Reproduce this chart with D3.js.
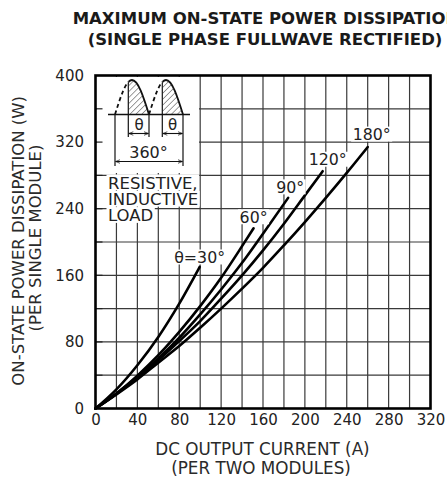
<!DOCTYPE html>
<html><head><meta charset="utf-8">
<script src="https://cdn.jsdelivr.net/npm/d3@7"></script>
<style>body{margin:0;background:#fff} svg{display:block}</style>
</head><body>
<svg id="chart" width="447" height="491"></svg>
<script>
// ---- data ----
const xTickValues = [0, 40, 80, 120, 160, 200, 240, 280, 320];
const yTickValues = [0, 80, 160, 240, 320, 400];
const curveLabels = ["θ=30°", "60°", "90°", "120°", "180°"];
const current30  = [0, 20, 40, 60, 80, 99.5];
const power30    = [0, 23, 52, 86, 126, 170];
const current60  = [0, 20, 40, 60, 80, 100, 120, 140, 151];
const power60    = [0, 18, 39.5, 64, 92, 123, 157, 195, 216.5];
const current90  = [0, 20, 40, 60, 80, 100, 120, 140, 160, 184];
const power90    = [0, 18, 38, 60, 85, 113, 143, 175, 210, 253];
const current120 = [0, 20, 40, 60, 80, 100, 120, 140, 160, 180, 200, 217];
const power120   = [0, 17.5, 37, 58, 81, 105, 132, 160, 190, 222, 256, 285];
const current180 = [0, 20, 40, 60, 80, 100, 120, 140, 160, 180, 200, 220, 240, 260];
const power180   = [0, 17, 35, 55, 75, 97, 120, 144, 169, 196, 224, 253, 283, 314];

const seriesX = [current30, current60, current90, current120, current180];
const seriesY = [power30, power60, power90, power120, power180];

// ---- drawing ----
const FONT = "'DejaVu Sans', sans-serif";
const svg = d3.select("#chart");
svg.append("rect").attr("width", 447).attr("height", 491).attr("fill", "#fff");

const x = d3.scaleLinear().domain([0, 320]).range([95.5, 430.5]);
const y = d3.scaleLinear().domain([0, 400]).range([408.5, 75.5]);

// grid
const grid = svg.append("g").attr("stroke", "#3a3a3a").attr("stroke-width", 1.2);
grid.selectAll("line.v").data(d3.range(20, 320, 20)).join("line")
  .attr("x1", d => x(d)).attr("x2", d => x(d)).attr("y1", y(0)).attr("y2", y(400));
grid.selectAll("line.h").data(d3.range(40, 400, 40)).join("line")
  .attr("y1", d => y(d)).attr("y2", d => y(d)).attr("x1", x(0)).attr("x2", x(320));

// inset white box
svg.append("rect").attr("x", 97).attr("y", 77).attr("width", 102).attr("height", 96).attr("fill", "#fff");

// load label
const loadLines = ["RESISTIVE,", "INDUCTIVE", "LOAD"];
const loadG = svg.append("g");
loadLines.forEach((t, i) => {
  const by = 188.5 + i * 16.3;
  const txt = loadG.append("text").attr("x", 108).attr("y", by).text(t)
    .attr("font-family", FONT).attr("font-size", 16.5).attr("fill", "#222");
  const bb = txt.node().getBBox();
  loadG.insert("rect", "text").attr("x", bb.x - 1.5).attr("y", by - 14)
    .attr("width", bb.width + 3).attr("height", 15.8).attr("fill", "#fff");
});

// inset waveform
const inset = svg.append("g").attr("stroke", "#111").attr("fill", "none");
const baseY = 114.5, humpW = 34, humpH = 34.5;
const humps = [{x0: 115, cut: 128.3}, {x0: 149, cut: 162.3}];
function humpPath(x0) {
  const sx = humpW / Math.PI, b = baseY, h = humpH;
  return `M${x0},${b} C${x0 + 0.5128 * sx},${b - 0.5128 * h} ${x0 + 1.0023 * sx},${b - h} ${x0 + humpW / 2},${b - h}`
    + ` C${x0 + humpW - 1.0023 * sx},${b - h} ${x0 + humpW - 0.5128 * sx},${b - 0.5128 * h} ${x0 + humpW},${b}`;
}
const defs = svg.append("defs");
const pat = defs.append("pattern").attr("id", "hatch").attr("patternUnits", "userSpaceOnUse")
  .attr("width", 4.2).attr("height", 4.2).attr("patternTransform", "rotate(45)");
pat.append("line").attr("x1", 0).attr("y1", 0).attr("x2", 0).attr("y2", 4.2)
  .attr("stroke", "#222").attr("stroke-width", 0.9);
humps.forEach((hp, i) => {
  defs.append("clipPath").attr("id", "hc" + i).append("path").attr("d", humpPath(hp.x0) + "Z");
  defs.append("clipPath").attr("id", "left" + i).append("rect")
    .attr("x", hp.x0 - 2).attr("y", 70).attr("width", hp.cut - hp.x0 + 2).attr("height", 50);
  defs.append("clipPath").attr("id", "right" + i).append("rect")
    .attr("x", hp.cut).attr("y", 70).attr("width", hp.x0 + humpW - hp.cut + 3).attr("height", 50);
  svg.append("g").attr("clip-path", `url(#hc${i})`).append("rect")
    .attr("x", hp.cut).attr("y", baseY - humpH - 2).attr("width", hp.x0 + humpW - hp.cut).attr("height", humpH + 2)
    .attr("fill", "url(#hatch)");
  inset.append("path").attr("d", humpPath(hp.x0)).attr("clip-path", `url(#left${i})`)
    .attr("stroke-width", 1.8).attr("stroke-dasharray", "4,3");
  inset.append("path").attr("d", humpPath(hp.x0)).attr("clip-path", `url(#right${i})`)
    .attr("stroke-width", 1.8);
  inset.append("line").attr("x1", hp.cut).attr("x2", hp.cut).attr("y1", baseY - humpH * 0.93).attr("y2", 137)
    .attr("stroke-width", 1.2);
});
inset.append("line").attr("x1", 108).attr("x2", 190).attr("y1", baseY).attr("y2", baseY).attr("stroke-width", 1.3);
// extension lines
inset.append("line").attr("x1", 149).attr("x2", 149).attr("y1", baseY).attr("y2", 137).attr("stroke-width", 1.2);
inset.append("line").attr("x1", 115).attr("x2", 115).attr("y1", baseY).attr("y2", 166).attr("stroke-width", 1.2);
inset.append("line").attr("x1", 183).attr("x2", 183).attr("y1", baseY).attr("y2", 166).attr("stroke-width", 1.2);
// arrows
defs.append("marker").attr("id", "arr").attr("viewBox", "0 0 10 10").attr("refX", 10).attr("refY", 5)
  .attr("markerWidth", 5).attr("markerHeight", 4).attr("orient", "auto-start-reverse")
  .append("path").attr("d", "M0,1 L10,5 L0,9").attr("fill", "none").attr("stroke", "#111").attr("stroke-width", 1.6);
function dimArrow(x1, x2, yy) {
  inset.append("line").attr("x1", x1 + 0.6).attr("x2", x2 - 0.6).attr("y1", yy).attr("y2", yy)
    .attr("stroke-width", 1.1).attr("marker-start", "url(#arr)").attr("marker-end", "url(#arr)");
}
dimArrow(128.3, 149, 133.5);
dimArrow(162.3, 183, 133.5);
dimArrow(115, 183, 161.5);
svg.append("text").attr("x", 139).attr("y", 129.5).attr("text-anchor", "middle").text("θ")
  .attr("font-family", FONT).attr("font-size", 15).attr("fill", "#222");
svg.append("text").attr("x", 172.5).attr("y", 129.5).attr("text-anchor", "middle").text("θ")
  .attr("font-family", FONT).attr("font-size", 15).attr("fill", "#222");
svg.append("text").attr("x", 148.5).attr("y", 157.5).attr("text-anchor", "middle").text("360°")
  .attr("font-family", FONT).attr("font-size", 16).attr("fill", "#222");

// curves
const line = d3.line().x(d => x(d[0])).y(d => y(d[1])).curve(d3.curveMonotoneX);
const curvesG = svg.append("g");
seriesX.forEach((xs, i) => {
  const pts = xs.map((v, j) => [v, seriesY[i][j]]);
  curvesG.append("path").attr("d", line(pts)).attr("fill", "none")
    .attr("stroke", "#000").attr("stroke-width", 2.6).attr("stroke-linecap", "round");
});

// curve labels
const labG = svg.append("g");
seriesX.forEach((xs, i) => {
  const xe = x(xs[xs.length - 1]), ye = y(seriesY[i][xs.length - 1]);
  const lx = xe + [0, 0, 2, 5, 4][i], ly = ye + [-4, -5.5, -5, -6, -7][i];
  const t = labG.append("text").attr("x", lx).attr("y", ly).attr("text-anchor", "middle")
    .text(curveLabels[i]).attr("font-family", FONT).attr("font-size", 15.8).attr("fill", "#222");
  const bb = t.node().getBBox();
  labG.insert("rect", "text").attr("x", bb.x - 1.5).attr("y", ly - 13.5).attr("width", bb.width + 3)
    .attr("height", 15).attr("fill", "#fff");
});

// inward ticks on left axis
svg.append("g").selectAll("line").data(d3.range(40, 400, 40)).join("line")
  .attr("x1", x(0)).attr("x2", x(0) + 7).attr("y1", d => y(d)).attr("y2", d => y(d))
  .attr("stroke", "#222").attr("stroke-width", 1.2);

// frame
svg.append("rect").attr("x", x(0)).attr("y", y(400)).attr("width", x(320) - x(0)).attr("height", y(0) - y(400))
  .attr("fill", "none").attr("stroke", "#000").attr("stroke-width", 2.6);

// axes
const xAxis = svg.append("g").attr("transform", `translate(0,${y(0)})`)
  .call(d3.axisBottom(x).tickValues(xTickValues).tickSize(0).tickPadding(6).tickFormat(d3.format("d")));
const yAxis = svg.append("g").attr("transform", `translate(${x(0)},0)`)
  .call(d3.axisLeft(y).tickValues(yTickValues).tickSize(0).tickPadding(11.5).tickFormat(d3.format("d")));
[xAxis, yAxis].forEach(a => {
  a.select(".domain").remove();
  a.selectAll("text").attr("font-family", FONT).attr("font-size", 15).attr("fill", "#222");
});

// axis titles
function addText(tx, ty, str, size, opts = {}) {
  const t = svg.append("text").attr("transform", `translate(${tx},${ty})` + (opts.rot ? " rotate(-90)" : ""))
    .attr("text-anchor", "middle").attr("font-family", FONT).attr("font-size", size)
    .attr("font-weight", opts.bold ? "bold" : "normal").attr("fill", opts.fill || "#2a2a2a").text(str);
  return t;
}
addText(262.5, 455, "DC OUTPUT CURRENT (A)", 16.8);
addText(261, 474, "(PER TWO MODULES)", 16.8);
addText(24, 240.8, "ON-STATE POWER DISSIPATION (W)", 16.5, {rot: true});
addText(40.5, 238, "(PER SINGLE MODULE)", 16.5, {rot: true});

// title
addText(266, 24, "MAXIMUM ON-STATE POWER DISSIPATION", 16.5, {bold: true, fill: "#1a1a1a"});
addText(265, 45, "(SINGLE PHASE FULLWAVE RECTIFIED)", 16.5, {bold: true, fill: "#1a1a1a"});
</script>
</body></html>
